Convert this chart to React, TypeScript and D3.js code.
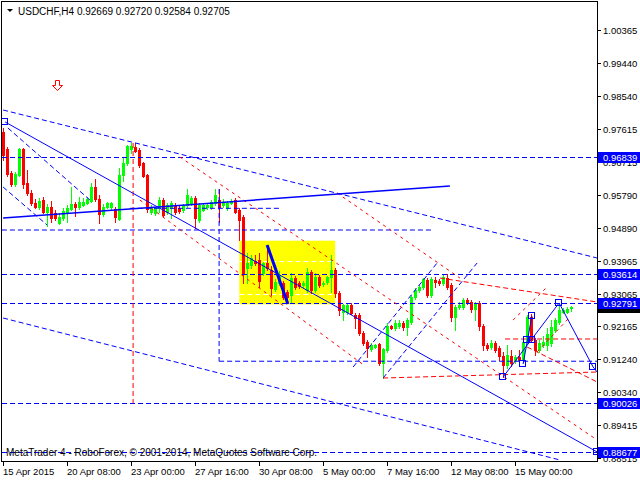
import React from "react";
import * as d3 from "d3";

const symbolTitle = "USDCHF,H4";
const lastQuote = [0.92669, 0.9272, 0.92584, 0.92705];
const copyright = "MetaTrader 4 - RoboForex, © 2001-2014, MetaQuotes Software Corp.";

const opens = [
  0.9754, 0.97069, 0.96404, 0.96099, 0.96349, 0.97069, 0.96127, 0.9585, 0.95573, 0.95462,
  0.95656, 0.95324, 0.95462, 0.95296, 0.95019, 0.95157, 0.95324, 0.95407, 0.95545, 0.95462,
  0.95518, 0.95573, 0.95628, 0.96016, 0.95684, 0.95268, 0.95462, 0.95462, 0.95407, 0.9513,
  0.96349, 0.96681, 0.97069, 0.97124, 0.97041, 0.96681, 0.96349, 0.95324, 0.95296, 0.95434,
  0.95656, 0.95324, 0.95434, 0.95518, 0.95434, 0.95379, 0.95518, 0.95573, 0.95711, 0.95102,
  0.95379, 0.95462, 0.95462, 0.95573, 0.95656, 0.95518, 0.95434, 0.95573, 0.95656, 0.95379,
  0.95185, 0.93772, 0.93856, 0.93966, 0.93994, 0.93634, 0.93911, 0.93717, 0.93191, 0.93357,
  0.93357, 0.93108, 0.93025, 0.93495, 0.93357, 0.93302, 0.93163, 0.93662, 0.93163, 0.93523,
  0.93329, 0.93385, 0.93523, 0.93717, 0.9308, 0.92554, 0.92554, 0.92748, 0.92471, 0.92471,
  0.91972, 0.91723, 0.91529, 0.91584, 0.91667, 0.91141, 0.91501, 0.92166, 0.9211, 0.92166,
  0.92249, 0.92138, 0.92277, 0.92969, 0.93163, 0.93246, 0.9344, 0.93025, 0.9344, 0.93412,
  0.93357, 0.93495, 0.93302, 0.92415, 0.92692, 0.92692, 0.92886, 0.92831, 0.92637, 0.92803,
  0.92166, 0.9164, 0.91584, 0.91695, 0.91556, 0.91335, 0.91086, 0.91335, 0.91196, 0.91307,
  0.91224, 0.91723, 0.92415, 0.91778, 0.91501, 0.9164, 0.9164, 0.91695, 0.92055, 0.92277,
  0.92554, 0.92554, 0.92669,
];
const highs = [
  0.9765, 0.97124, 0.96459, 0.96432, 0.97096, 0.97096, 0.96487, 0.95933, 0.95684, 0.95711,
  0.95739, 0.95545, 0.95628, 0.95379, 0.95296, 0.95434, 0.95518, 0.96016, 0.95601, 0.95739,
  0.95711, 0.95739, 0.96127, 0.96238, 0.95795, 0.95545, 0.95601, 0.95601, 0.95462, 0.96542,
  0.96847, 0.9718, 0.97235, 0.97235, 0.97096, 0.96709, 0.96376, 0.95518, 0.95462, 0.95739,
  0.95711, 0.95573, 0.95628, 0.95573, 0.9549, 0.95545, 0.95961, 0.95767, 0.95767, 0.95573,
  0.95545, 0.95573, 0.95656, 0.95961, 0.95961, 0.95684, 0.95628, 0.95684, 0.95711, 0.95434,
  0.95241, 0.94188, 0.94133, 0.94133, 0.94188, 0.93939, 0.9441, 0.93828, 0.93468, 0.93689,
  0.93412, 0.93163, 0.93634, 0.93551, 0.93412, 0.93412, 0.93772, 0.93717, 0.93634, 0.93579,
  0.93412, 0.93551, 0.94133, 0.93772, 0.93135, 0.92775, 0.92803, 0.92803, 0.92526, 0.92526,
  0.92027, 0.91778, 0.91695, 0.91667, 0.91695, 0.91556, 0.92249, 0.92194, 0.92332, 0.92332,
  0.92304, 0.92387, 0.93025, 0.93218, 0.93302, 0.93495, 0.93495, 0.93523, 0.93523, 0.93468,
  0.93579, 0.93606, 0.93357, 0.92748, 0.92831, 0.92941, 0.92941, 0.92886, 0.92831, 0.92858,
  0.92221, 0.91695, 0.91778, 0.9175, 0.91612, 0.91446, 0.9164, 0.91501, 0.91363, 0.91501,
  0.91778, 0.92471, 0.92498, 0.91833, 0.91778, 0.91889, 0.9211, 0.92332, 0.92387, 0.92803,
  0.92664, 0.92692, 0.9272,
];
const lows = [
  0.96764, 0.96321, 0.96044, 0.96044, 0.96321, 0.95988, 0.95795, 0.95518, 0.95434, 0.95407,
  0.95296, 0.94936, 0.95047, 0.95102, 0.94991, 0.95102, 0.95047, 0.95379, 0.95213, 0.95407,
  0.9549, 0.95545, 0.95601, 0.95628, 0.95019, 0.95213, 0.95434, 0.95379, 0.95047, 0.95102,
  0.96182, 0.96626, 0.96958, 0.96986, 0.9657, 0.96293, 0.95324, 0.95268, 0.95241, 0.95324,
  0.95185, 0.95268, 0.95157, 0.95268, 0.95296, 0.95324, 0.95462, 0.95518, 0.9488, 0.95047,
  0.95351, 0.95407, 0.95407, 0.95518, 0.95047, 0.95462, 0.95379, 0.95545, 0.95296, 0.94548,
  0.93357, 0.93357, 0.93772, 0.93856, 0.93246, 0.93579, 0.93717, 0.93025, 0.93135, 0.93302,
  0.92914, 0.92803, 0.92803, 0.93191, 0.93218, 0.93246, 0.93108, 0.9308, 0.93108, 0.93246,
  0.93274, 0.93329, 0.93108, 0.92969, 0.92471, 0.92332, 0.92498, 0.92498, 0.9211, 0.91917,
  0.9164, 0.91307, 0.91473, 0.91556, 0.91086, 0.90725, 0.91446, 0.92083, 0.92055, 0.9211,
  0.92055, 0.91917, 0.92221, 0.92914, 0.93108, 0.93191, 0.92969, 0.92969, 0.93246, 0.93302,
  0.93302, 0.93191, 0.92304, 0.92055, 0.92637, 0.92637, 0.92775, 0.92554, 0.92332, 0.92055,
  0.91501, 0.91501, 0.91529, 0.91446, 0.91224, 0.90753, 0.91002, 0.91058, 0.91141, 0.91169,
  0.91169, 0.91667, 0.91723, 0.91363, 0.91446, 0.91584, 0.91501, 0.91612, 0.92, 0.92221,
  0.92526, 0.92526, 0.92584,
];
const closes = [
  0.96903, 0.96376, 0.96099, 0.96376, 0.97069, 0.96099, 0.9585, 0.95573, 0.95462, 0.95628,
  0.95324, 0.95462, 0.95157, 0.95157, 0.95185, 0.95351, 0.95434, 0.95545, 0.95462, 0.95601,
  0.95601, 0.95684, 0.96016, 0.95684, 0.95268, 0.95462, 0.95573, 0.95573, 0.95185, 0.96349,
  0.96681, 0.97152, 0.97152, 0.97013, 0.96626, 0.96321, 0.95407, 0.95462, 0.95434, 0.95656,
  0.95241, 0.95518, 0.95573, 0.95324, 0.95351, 0.95518, 0.95795, 0.95711, 0.95157, 0.95518,
  0.95518, 0.95518, 0.95601, 0.95795, 0.95462, 0.95601, 0.95573, 0.95628, 0.95324, 0.95102,
  0.93634, 0.93911, 0.94049, 0.93911, 0.93412, 0.93911, 0.93772, 0.93218, 0.93385, 0.93579,
  0.92969, 0.92969, 0.93495, 0.93246, 0.93274, 0.93357, 0.93662, 0.93163, 0.93523, 0.93302,
  0.93357, 0.93523, 0.93717, 0.9308, 0.92609, 0.92748, 0.92748, 0.92526, 0.92387, 0.91972,
  0.91695, 0.91556, 0.9164, 0.9164, 0.91141, 0.91529, 0.92166, 0.9211, 0.92249, 0.92249,
  0.92138, 0.92332, 0.92969, 0.93163, 0.93246, 0.93468, 0.93025, 0.93468, 0.93385, 0.93357,
  0.93523, 0.93246, 0.92415, 0.92692, 0.92748, 0.92886, 0.92803, 0.92637, 0.92803, 0.92166,
  0.9164, 0.91556, 0.91695, 0.91501, 0.91335, 0.91086, 0.91363, 0.91141, 0.91307, 0.91224,
  0.91723, 0.92415, 0.91778, 0.91501, 0.91695, 0.91723, 0.91944, 0.92138, 0.92332, 0.92609,
  0.92609, 0.92637, 0.92705,
];

const timeLabels = [
  "15 Apr 2015", "20 Apr 08:00", "23 Apr 00:00", "27 Apr 16:00", "30 Apr 08:00",
  "5 May 00:00", "7 May 16:00", "12 May 08:00", "15 May 00:00",
];
const timeLabelBars = [0, 16, 32, 48, 64, 80, 96, 112, 128];
const priceTicks = [
  1.00365, 0.9944, 0.9854, 0.97615, 0.96715, 0.9579, 0.9489, 0.93965, 0.93065,
  0.92165, 0.9124, 0.9034, 0.89415, 0.88515,
];
const levelPrices = [0.96839, 0.93614, 0.92791, 0.90026, 0.88677];

// objects: [barIndex, price] pairs
const blueDashed = [
  [[-0.4, 0.94825], [107.1, 0.94825]],
  [[31.6, 0.95426], [69.1, 0.95426]],
  [[53.9, 0.9119], [148.4, 0.9119]],
  [[53.9, 0.95961], [53.9, 0.9119]],
  [[-0.1, 0.98149], [148.4, 0.94049]],
  [[-0.1, 0.92387], [139.1, 0.88454]],
  [[1.1, 0.9765], [21.6, 0.95656]],
  [[-0.1, 0.96016], [10.9, 0.94964]],
  [[87.4, 0.9103], [108.4, 0.93911]],
  [[94.9, 0.90725], [118.4, 0.93911]],
];
const redDotted = [
  [[44.1, 0.96847], [148.4, 0.89008]],
  [[34.1, 0.95656], [90.4, 0.91058]],
  [[83.4, 0.9585], [114.1, 0.93495]],
  [[127.4, 0.92332], [135.9, 0.93246]],
  [[133.4, 0.91446], [141.6, 0.92415]],
];
const redDashed = [
  [[94.9, 0.90725], [148.4, 0.90891]],
  [[109.1, 0.93495], [148.4, 0.92831]],
  [[125.4, 0.91806], [148.4, 0.91806]],
  [[130.9, 0.91584], [148.4, 0.90615]],
  [[32.4, 0.97235], [32.4, 0.90026]],
];
const blueSolid = [
  { w: 1, pts: [[0.4, 0.97817], [148.4, 0.88677]] },
  { w: 1.5, pts: [[-0.1, 0.95157], [111.6, 0.96044]] },
  { w: 3, pts: [[65.9, 0.9441], [71.1, 0.92775]] },
  { w: 1, pts: [[124.9, 0.90753], [138.9, 0.92803], [147.4, 0.9103], [148.4, 0.90891]] },
  { w: 1, pts: [[129.9, 0.91113], [132.1, 0.92443]] },
];
const anchorPoints = [
  [0.4, 0.97817], [148.4, 0.88677], [124.9, 0.90753], [129.9, 0.91113], [130.9, 0.91778],
  [132.1, 0.91778], [132.1, 0.92443], [138.9, 0.92803], [147.4, 0.9103],
];
const yellowBox = { i0: 58.95, i1: 82.9, top: 0.94528, bottom: 0.92767 };
const yellowInner = [0.93966, 0.93044];
const arrowAt = [13.5, 0.9898];

export default function App() {
  const W = 640, H = 480;
  const L = 2, T = 2, R = 597, B = 461;
  const x = d3.scaleLinear().domain([0, 1]).range([3.5, 7.5]);
  const y = d3.scaleLinear().domain([0.88426, 1.01141]).range([B, T]);
  const cy = (p: number) => Math.round(y(p)) + 0.5;
  const bull = "#00ff00", bear = "#ff0000", blue = "#0000ff";
  const font = "'Liberation Sans', Arial, sans-serif";
  const line = d3.line<number[]>().x((d) => x(d[0])).y((d) => y(d[1]));

  const candles = opens.map((o, i) => {
    const c = closes[i];
    const up = c >= o;
    const col = up ? bull : bear;
    const cx = Math.round(x(i) - 0.5);
    const top = Math.round(y(Math.max(o, c)));
    const bot = Math.round(y(Math.min(o, c)));
    const hy = Math.round(y(highs[i]));
    const ly = Math.round(y(lows[i]));
    return (
      <g key={i}>
        <rect x={cx} y={hy} width={1} height={Math.max(1, ly - hy + 1)} fill={col} />
        <rect x={cx - 1} y={top} width={3} height={Math.max(1, bot - top + 1)} fill={col} />
      </g>
    );
  });

  const ax = x(arrowAt[0]);
  const ay = Math.round(y(arrowAt[1])) + 0.5;

  return (
    <svg width={W} height={H} style={{ position: "absolute", left: 0, top: 0, display: "block" }}>
      <defs>
        <clipPath id="plot">
          <rect x={L} y={T} width={R - L} height={B - T} />
        </clipPath>
      </defs>
      <rect x={0} y={0} width={W} height={H} fill="#fff" />
      <g clipPath="url(#plot)">
        <rect
          x={x(yellowBox.i0)}
          y={y(yellowBox.top)}
          width={x(yellowBox.i1) - x(yellowBox.i0)}
          height={y(yellowBox.bottom) - y(yellowBox.top)}
          fill="#ffff00"
        />
        {yellowInner.map((p, k) => (
          <line key={k} x1={x(yellowBox.i0)} x2={x(yellowBox.i1)} y1={cy(p)} y2={cy(p)}
            stroke="#fff" strokeDasharray="5,3" />
        ))}
        {candles}
        {levelPrices.map((p, k) => (
          <line key={k} x1={L} x2={R} y1={cy(p)} y2={cy(p)} stroke={blue} strokeDasharray="5,3" />
        ))}
        {blueDashed.map((s, k) => (
          <path key={k} d={line(s as number[][]) || ""} stroke={blue} fill="none" strokeDasharray="5,3" />
        ))}
        {redDotted.map((s, k) => (
          <path key={k} d={line(s as number[][]) || ""} stroke={bear} fill="none" strokeDasharray="3,4" />
        ))}
        {redDashed.map((s, k) => (
          <path key={k} d={line(s as number[][]) || ""} stroke={bear} fill="none" strokeDasharray="5,3" />
        ))}
        {blueSolid.map((s, k) => (
          <path key={k} d={line(s.pts as number[][]) || ""} stroke={blue} fill="none" strokeWidth={s.w} />
        ))}
        {anchorPoints.map((p, k) => (
          <rect key={k} x={Math.round(x(p[0])) - 3.5} y={Math.round(y(p[1])) - 3.5} width={6} height={6}
            fill="#fff" fillOpacity={0} stroke={blue} />
        ))}
        <polygon
          points={[
            [ax - 2, ay], [ax + 2, ay], [ax + 2, ay + 5], [ax + 5, ay + 5], [ax, ay + 10],
            [ax - 5, ay + 5], [ax - 2, ay + 5],
          ].map((q) => q.join(",")).join(" ")}
          fill="#fff" stroke={bear}
        />
        <text x={6} y={456} fontFamily={font} fontSize={10} fill="#000">{copyright}</text>
      </g>
      {/* frame */}
      <rect x={L - 0.5} y={T - 0.5} width={R - L + 1} height={B - T + 1} fill="none" stroke="#000" />
      {/* header */}
      <polygon points="7,9 13,9 10,12" fill="#000" />
      <text x={18} y={15} fontFamily={font} fontSize={10} fill="#000">
        {symbolTitle + "  " + lastQuote.map((v) => v.toFixed(5)).join(" ")}
      </text>
      {/* price axis */}
      {priceTicks.map((p, k) => (
        <g key={k}>
          <line x1={R} x2={R + 4} y1={cy(p)} y2={cy(p)} stroke="#000" />
          <text x={603} y={Math.round(y(p)) + 3.5} fontFamily={font} fontSize={9.5} fill="#000">
            {p.toFixed(5)}
          </text>
        </g>
      ))}
      {/* current price marker, mostly covered by the 0.92791 level label */}
      <rect x={598} y={Math.round(y(lastQuote[3])) - 5} width={42} height={11} fill="#000" />
      {levelPrices.map((p, k) => (
        <g key={k}>
          <rect x={598} y={Math.round(y(p)) - 5} width={42} height={11} fill={blue} />
          <text x={603} y={Math.round(y(p)) + 3.5} fontFamily={font} fontSize={9.5} fill="#fff">
            {p.toFixed(5)}
          </text>
        </g>
      ))}
      {/* time axis */}
      {timeLabelBars.map((b, k) => (
        <g key={k}>
          <line x1={x(b)} x2={x(b)} y1={B} y2={B + 5} stroke="#000" />
          <text x={x(b) - 0.5} y={475} fontFamily={font} fontSize={9.5} fill="#000">
            {timeLabels[k]}
          </text>
        </g>
      ))}
    </svg>
  );
}
